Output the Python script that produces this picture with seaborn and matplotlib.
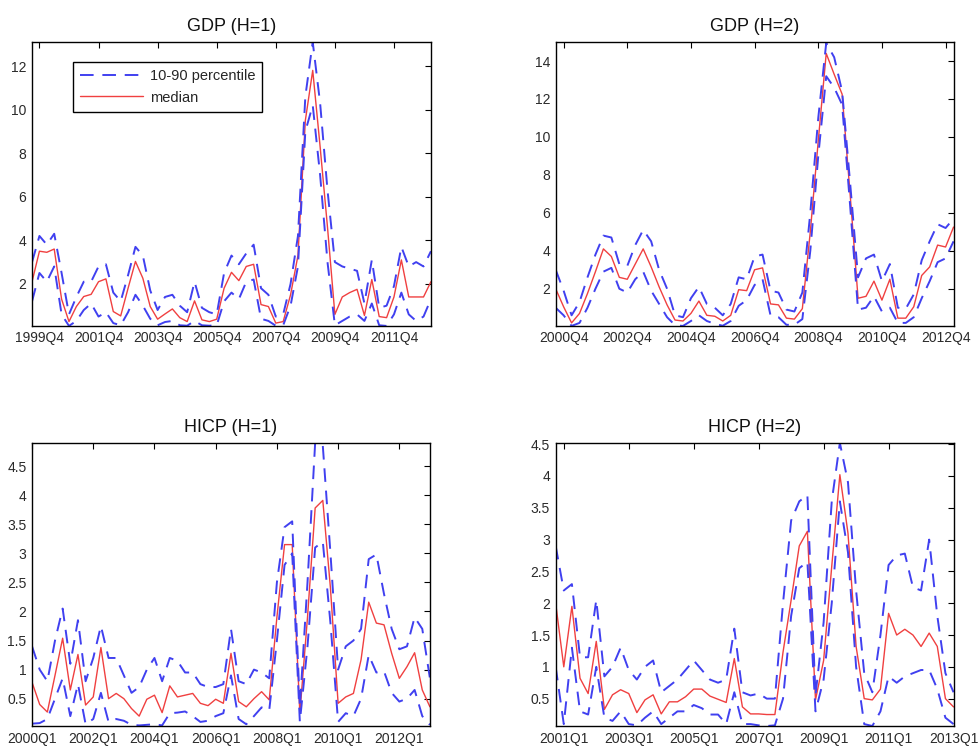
import numpy as np
import matplotlib
matplotlib.use("Agg")
import matplotlib.pyplot as plt
import seaborn as sns
from matplotlib.ticker import FuncFormatter

# ---- data ----
# GDP, H=1 : 1999Q3 .. 2013Q1
gdp1_median = [2.1, 3.5, 3.45, 3.6, 1.3, 0.27, 0.96, 1.42, 1.52, 2.1,
               2.23, 0.73, 0.53, 1.8, 3.03, 2.26, 0.96, 0.38, 0.62, 0.85,
               0.45, 0.27, 1.22, 0.35, 0.27, 0.38, 1.8, 2.53, 2.15, 2.8,
               2.9, 1.05, 0.96, 0.2, 0.27, 1.5, 3.3, 9.5, 11.8, 8.3,
               4.6, 0.6, 1.4, 1.6, 1.75, 0.55, 2.2, 0.5, 0.45, 1.4,
               3.1, 1.4, 1.4, 1.4, 2.1]
gdp1_upper = [3.0, 4.2, 3.8, 4.3, 2.5, 0.6, 1.4, 2.1, 2.1, 2.8,
              2.9, 1.6, 1.2, 2.4, 3.7, 3.3, 1.7, 0.8, 1.4, 1.5,
              1.0, 0.7, 2.1, 0.9, 0.7, 0.6, 2.5, 3.3, 2.9, 3.4,
              3.8, 1.8, 1.5, 0.5, 0.6, 2.0, 4.2, 10.6, 13.1, 10.3,
              6.3, 3.0, 2.8, 2.7, 2.6, 1.1, 3.1, 0.9, 1.0, 1.9,
              3.7, 2.8, 3.0, 2.8, 3.5]
gdp1_lower = [1.2, 2.5, 2.1, 2.8, 0.6, 0.07, 0.3, 0.8, 1.1, 0.5,
              0.7, 0.2, 0.1, 0.7, 1.5, 1.0, 0.4, 0.1, 0.25, 0.3,
              0.1, 0.08, 0.3, 0.1, 0.08, 0.1, 1.2, 1.6, 1.3, 2.1,
              2.2, 0.4, 0.3, 0.08, 0.1, 1.0, 2.8, 9.0, 10.2, 7.0,
              3.0, 0.1, 0.3, 0.5, 0.6, 0.3, 1.1, 0.1, 0.07, 0.6,
              1.6, 0.6, 0.3, 0.5, 1.3]
gdp1_ticklabels = ["1999Q4", "2001Q4", "2003Q4", "2005Q4", "2007Q4", "2009Q4", "2011Q4"]

# GDP, H=2 : 2000Q3 .. 2013Q1
gdp2_median = [2.0, 1.05, 0.2, 0.7, 1.75, 2.9, 4.1, 3.7, 2.6, 2.5,
               3.3, 4.1, 3.15, 2.1, 1.15, 0.35, 0.3, 0.7, 1.35, 0.6,
               0.55, 0.3, 0.6, 1.95, 1.9, 3.0, 3.1, 1.2, 1.15, 0.45,
               0.4, 0.95, 5.0, 9.8, 14.4, 13.3, 12.25, 7.0, 1.5, 1.6,
               2.4, 1.4, 2.5, 0.45, 0.45, 1.05, 2.7, 3.15, 4.3, 4.2,
               5.25]
gdp2_upper = [3.0, 1.9, 0.6, 1.3, 2.6, 3.8, 4.8, 4.7, 3.3, 3.2,
              4.3, 5.1, 4.5, 3.0, 2.0, 0.6, 0.5, 1.5, 2.1, 1.2,
              1.0, 0.6, 1.2, 2.6, 2.5, 3.7, 3.8, 1.9, 1.8, 0.9,
              0.8, 1.8, 6.0, 11.0, 14.95, 14.2, 12.4, 7.6, 2.6, 3.6,
              3.8, 2.4, 3.3, 1.0, 0.95, 1.7, 3.5, 4.5, 5.4, 5.2,
              5.7]
gdp2_lower = [1.0, 0.6, 0.04, 0.2, 1.0, 2.0, 2.9, 3.1, 2.0, 1.8,
              2.5, 2.9, 1.9, 1.2, 0.5, 0.08, 0.04, 0.3, 0.6, 0.3,
              0.15, 0.05, 0.3, 1.1, 1.4, 2.2, 2.5, 0.6, 0.5, 0.1,
              0.1, 0.4, 4.0, 9.0, 13.2, 12.6, 11.7, 6.4, 0.9, 1.0,
              1.6, 0.8, 1.0, 0.2, 0.2, 0.5, 1.5, 2.4, 3.4, 3.6,
              4.5]
gdp2_ticklabels = ["2000Q4", "2002Q4", "2004Q4", "2006Q4", "2008Q4", "2010Q4", "2012Q4"]

# HICP, H=1 : 2000Q1 .. 2013Q1
hicp1_median = [0.78, 0.4, 0.27, 0.9, 1.54, 0.65, 1.26, 0.39, 0.53, 1.38,
                0.5, 0.59, 0.5, 0.33, 0.2, 0.49, 0.56, 0.26, 0.72, 0.53,
                0.56, 0.59, 0.42, 0.38, 0.49, 0.42, 1.28, 0.45, 0.36, 0.5,
                0.62, 0.48, 1.9, 3.15, 3.15, 0.25, 1.9, 3.78, 3.91, 2.4,
                0.42, 0.53, 0.59, 1.17, 2.16, 1.8, 1.77, 1.28, 0.85, 1.05,
                1.29, 0.65, 0.36]
hicp1_upper = [1.4, 1.0, 0.8, 1.5, 2.05, 1.1, 1.85, 0.8, 1.2, 1.75,
               1.2, 1.2, 0.9, 0.6, 0.7, 1.0, 1.2, 0.8, 1.2, 1.15,
               0.95, 0.95, 0.75, 0.7, 0.7, 0.75, 1.7, 0.8, 0.75, 1.0,
               0.95, 0.85, 2.5, 3.45, 3.55, 0.35, 2.5, 4.9, 4.85, 3.0,
               1.0, 1.4, 1.5, 1.7, 2.9, 2.98, 2.3, 1.7, 1.35, 1.4,
               1.9, 1.7, 0.85]
hicp1_lower = [0.07, 0.08, 0.15, 0.5, 0.85, 0.2, 0.75, 0.06, 0.15, 0.6,
               0.1, 0.15, 0.12, 0.05, 0.04, 0.05, 0.06, 0.04, 0.25, 0.26,
               0.28, 0.2, 0.1, 0.12, 0.2, 0.25, 0.9, 0.15, 0.06, 0.2,
               0.35, 0.3, 1.5, 2.8, 3.0, 0.1, 1.4, 3.1, 3.2, 1.8,
               0.1, 0.25, 0.2, 0.5, 1.25, 0.95, 0.97, 0.6, 0.45, 0.5,
               0.65, 0.2, 0.05]
hicp1_ticklabels = ["2000Q1", "2002Q1", "2004Q1", "2006Q1", "2008Q1", "2010Q1", "2012Q1"]

# HICP, H=2 : 2000Q4 .. 2013Q1
hicp2_median = [2.0, 1.0, 1.95, 0.82, 0.58, 1.4, 0.33, 0.56, 0.64, 0.58,
                0.28, 0.48, 0.56, 0.26, 0.45, 0.45, 0.53, 0.65, 0.65, 0.54,
                0.49, 0.44, 1.13, 0.37, 0.26, 0.26, 0.25, 0.25, 1.23, 2.05,
                2.9, 3.13, 0.48, 1.1, 2.58, 4.02, 3.1, 1.32, 0.5, 0.48,
                0.65, 1.84, 1.5, 1.59, 1.5, 1.32, 1.53, 1.32, 0.5, 0.37]
hicp2_upper = [2.9, 2.2, 2.3, 1.15, 1.15, 2.05, 0.85, 1.0, 1.3, 0.95,
               0.8, 1.0, 1.1, 0.6, 0.7, 0.8, 0.95, 1.1, 0.95, 0.8,
               0.75, 0.8, 1.6, 0.6, 0.55, 0.58, 0.5, 0.5, 2.0, 3.3,
               3.6, 3.7, 0.55, 1.7, 3.6, 4.52, 3.9, 2.2, 0.9, 0.6,
               1.5, 2.6, 2.75, 2.78, 2.25, 2.2, 3.0, 1.8, 0.9, 0.6]
hicp2_lower = [1.0, 0.1, 1.3, 0.3, 0.25, 1.0, 0.2, 0.15, 0.3, 0.1,
               0.08, 0.2, 0.3, 0.1, 0.2, 0.3, 0.3, 0.4, 0.35, 0.25,
               0.25, 0.1, 0.6, 0.1, 0.1, 0.08, 0.07, 0.08, 0.5, 1.8,
               2.55, 2.65, 0.3, 0.8, 2.0, 3.6, 2.8, 1.0, 0.1, 0.07,
               0.3, 0.85, 0.75, 0.85, 0.9, 0.95, 0.95, 0.65, 0.2, 0.1]
hicp2_ticklabels = ["2001Q1", "2003Q1", "2005Q1", "2007Q1", "2009Q1", "2011Q1", "2013Q1"]

BLUE = "#4040f0"
RED = "#f04040"

sns.set_style("white")
plt.rcParams['font.family'] = ['Liberation Sans', 'DejaVu Sans']

fig = plt.figure(figsize=(9.8, 7.51), dpi=100)

panels = [
    # title, median, upper, lower, first tick index, tick labels, ylim, yticks, axes rect
    ("GDP (H=1)", gdp1_median, gdp1_upper, gdp1_lower, 1, gdp1_ticklabels,
     (0.07, 13.1), [2, 4, 6, 8, 10, 12], [0.0327, 0.566, 0.407, 0.378]),
    ("GDP (H=2)", gdp2_median, gdp2_upper, gdp2_lower, 1, gdp2_ticklabels,
     (0.04, 15.0), [2, 4, 6, 8, 10, 12, 14], [0.567, 0.566, 0.406, 0.378]),
    ("HICP (H=1)", hicp1_median, hicp1_upper, hicp1_lower, 0, hicp1_ticklabels,
     (0.03, 4.9), [0.5, 1, 1.5, 2, 2.5, 3, 3.5, 4, 4.5], [0.0327, 0.0333, 0.406, 0.377]),
    ("HICP (H=2)", hicp2_median, hicp2_upper, hicp2_lower, 1, hicp2_ticklabels,
     (0.07, 4.52), [0.5, 1, 1.5, 2, 2.5, 3, 3.5, 4, 4.5], [0.567, 0.0333, 0.406, 0.377]),
]

dash = (0, (7, 4.5))

for k, (title, med, up, lo, t0, tlabs, ylim, yt, rect) in enumerate(panels):
    ax = fig.add_axes(rect)
    x = np.arange(len(med))
    sns.lineplot(x=x, y=med, ax=ax, color=RED, linewidth=1.0, label="median")
    sns.lineplot(x=x, y=up, ax=ax, color=BLUE, linewidth=1.4, linestyle=dash,
                 label="10-90 percentile")
    sns.lineplot(x=x, y=lo, ax=ax, color=BLUE, linewidth=1.4, linestyle=dash)

    ax.set_xlim(0, len(med) - 1)
    ax.set_ylim(*ylim)
    ax.set_xticks([t0 + 8 * j for j in range(len(tlabs))])
    ax.set_xticklabels(tlabs)
    ax.set_yticks(yt)
    ax.yaxis.set_major_formatter(FuncFormatter(lambda v, p: f"{v:g}"))
    ax.tick_params(axis='both', which='both', direction='in', length=4,
                   width=0.8, top=True, right=True, labelsize=10, pad=4,
                   color='black', labelcolor='#2a2a2a')
    for s in ax.spines.values():
        s.set_color('black')
        s.set_linewidth(1.0)
    ax.set_xlabel("")
    ax.set_ylabel("")
    ax.set_title(title, fontsize=13, pad=8, color='#111111')

    leg = ax.get_legend()
    if leg is not None:
        leg.remove()
    if k == 0:
        lines = ax.get_lines()
        ax.legend([lines[1], lines[0]], ["10-90 percentile", "median"],
                  loc="upper left", bbox_to_anchor=(0.103, 0.93),
                  borderaxespad=0, fontsize=10.5, handlelength=4.3,
                  handletextpad=0.45, labelspacing=0.5, fancybox=False,
                  edgecolor='black', framealpha=1, borderpad=0.5)
        ax.get_legend().get_frame().set_linewidth(1.0)

fig.savefig("out.png", dpi=100)
